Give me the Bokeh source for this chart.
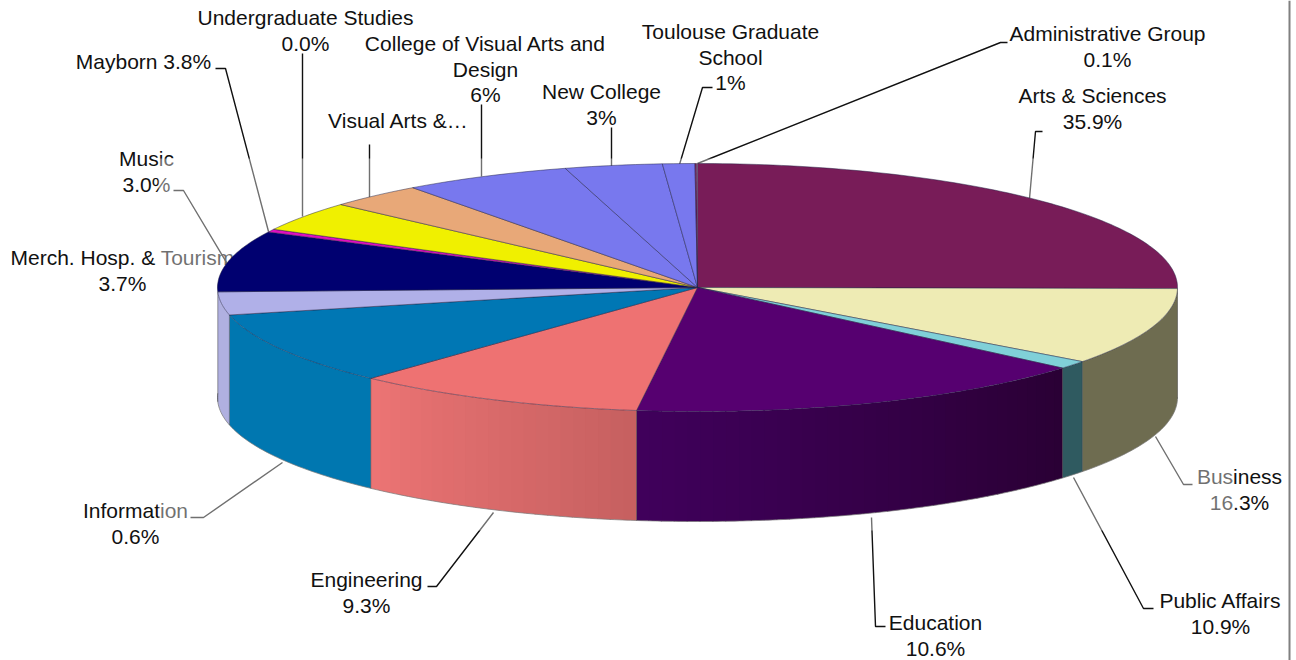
import math
from bokeh.plotting import figure
from bokeh.models import Range1d
from bokeh.core.properties import value
from bokeh.embed import file_html
from bokeh.resources import INLINE

# Slice sweeps as drawn on the pie (degrees)
slices = ["Arts & Sciences", "Business", "Public Affairs", "Education", "Engineering",
          "Information", "Merch. Hosp. & Tourism", "Music", "Mayborn", "Undergraduate Studies",
          "Visual Arts", "College of Visual Arts and Design", "New College", "Toulouse", "Administrative Group"]
sweeps = [90.5, 36.2, 3.8, 56.8, 35.6, 34.3, 10.8, 28.6, 1.4, 14.0, 11.6, 20.4, 11.8, 3.9, 0.2]
top_colors = ["#781c58", "#eeebb4", "#80d0d8", "#560070", "#ee7272", "#0077b4", "#b0b0e8", "#000070",
              "#e010c0", "#f0f000", "#e8a878", "#7878ee", "#7878ee", "#7878ee", "#781c58"]
wall_start = ["#6e6c50", "#6e6c50", "#2f5a60", "#2a0034", "#c66060", "#0077b0", "#b0b0e0", "#000070",
              "#e010c0", "#f0f000", "#e8a878", "#7878ee", "#7878ee", "#7878ee", "#781c58"]
wall_end = ["#6e6c50", "#6e6c50", "#2f5a60", "#40005c", "#ec7474", "#0077b0", "#b0b0e0", "#000070",
            "#e010c0", "#f0f000", "#e8a878", "#7878ee", "#7878ee", "#7878ee", "#781c58"]

# Label texts: (centre x, first-line y, lines)
labels = [
    (305, 17, ["Undergraduate Studies", "0.0%"]),
    (143, 61, ["Mayborn 3.8%"]),
    (485, 43, ["College of Visual Arts and", "Design", "6%"]),
    (398, 120, ["Visual Arts &\u2026"]),
    (601, 91, ["New College", "3%"]),
    (730, 31, ["Toulouse Graduate", "School", "1%"]),
    (1107, 33, ["Administrative Group", "0.1%"]),
    (1092, 95, ["Arts & Sciences", "35.9%"]),
    (146, 158, ["Music", "3.0%"]),
    (122, 257, ["Merch. Hosp. & Tourism", "3.7%"]),
    (1239, 476, ["Business", "16.3%"]),
    (1220, 600, ["Public Affairs", "10.9%"]),
    (935, 622, ["Education", "10.6%"]),
    (366, 579, ["Engineering", "9.3%"]),
    (135, 510, ["Information", "0.6%"]),
]
leaders = [
    ([215, 225, 268], [68, 68, 231]),
    ([302, 302], [53, 216]),
    ([369, 369], [144, 197]),
    ([481, 481], [104, 176]),
    ([611, 611], [127, 166]),
    ([712, 702, 679], [87, 87, 164]),
    ([1007, 1000, 697], [42, 42, 163]),
    ([1042, 1035, 1029], [131, 131, 198]),
    ([173, 183, 232], [190, 190, 272]),
    ([1192, 1183, 1155], [484, 484, 436]),
    ([1153, 1143, 1073], [608, 608, 477]),
    ([885, 875, 871], [626, 626, 517]),
    ([427, 436, 493], [586, 586, 512]),
    ([190, 203, 282], [517, 517, 462]),
]

# Layout of the pie in page pixels
CX, CY, RX, RY, DEPTH = 697, 287, 480, 124, 110
FONT = "Liberation Sans"
SIZE = "21px"
W, H = 1296, 660


def pt(t_deg, dy=0):
    t = math.radians(t_deg)
    return CX + RX * math.sin(t), CY - RY * math.cos(t) + dy


def mix(a, b, f):
    ca = [int(a[i:i + 2], 16) for i in (1, 3, 5)]
    cb = [int(b[i:i + 2], 16) for i in (1, 3, 5)]
    return "#%02x%02x%02x" % tuple(round(x + (y - x) * f) for x, y in zip(ca, cb))


p = figure(width=W, height=H, output_backend="svg", toolbar_location=None,
           x_range=Range1d(0, W), y_range=Range1d(H, 0),
           min_border=0, outline_line_color=None, background_fill_color="white")
p.axis.visible = False
p.grid.visible = False

# Leaders and labels sit under a translucent picture area, as in the source
p.multi_line([l[0] for l in leaders], [l[1] for l in leaders], line_color="#111111", line_width=1.4)
for cx, y0, lines in labels:
    p.text([cx] * len(lines), [y0 + i * 25.5 for i in range(len(lines))], text=lines,
           text_font=value(FONT), text_font_size=value(SIZE), text_color="#111111",
           text_align="center", text_baseline="middle")
p.quad(left=[158], right=[1232], top=[158], bottom=[530], fill_color="white", fill_alpha=0.4, line_color=None)

# Walls
a = 0.0
wx, wy, wc = [], [], []
for s, c0, c1 in zip(sweeps, wall_start, wall_end):
    b = a + s
    lo, hi = max(a, 90), min(b, 272)
    if hi > lo:
        n = 1 if c0 == c1 else max(1, int((hi - lo) / 1.5))
        for i in range(n):
            u0 = lo + (hi - lo) * i / n
            u1 = lo + (hi - lo) * (i + 1) / n
            if i < n - 1:
                u1 += 0.15
            m = max(3, int(u1 - u0) + 2)
            ts = [u0 + (u1 - u0) * k / m for k in range(m + 1)]
            top = [pt(t) for t in ts]
            bot = [pt(t, DEPTH) for t in reversed(ts)]
            wx.append([q[0] for q in top + bot])
            wy.append([q[1] for q in top + bot])
            wc.append(mix(c0, c1, (i + 0.5) / n))
    a = b
p.patches(wx, wy, fill_color=wc, line_color=None)

# Bottom rim
rim = [pt(90 + i, DEPTH) for i in range(183)]
p.line([q[0] for q in rim], [q[1] for q in rim], line_color="#777777", line_width=1, line_alpha=0.7)

# Seams between walls
a = 0.0
for s in sweeps:
    a += s
    if 90 < a < 272:
        q0, q1 = pt(a), pt(a, DEPTH)
        p.line([q0[0], q1[0]], [q0[1], q1[1]], line_color="#333333", line_width=0.8, line_alpha=0.6)

# Top faces
a = 0.0
tx, ty = [], []
for s in sweeps:
    n = max(2, int(s))
    arc = [pt(a + s * k / n) for k in range(n + 1)]
    tx.append([CX] + [q[0] for q in arc])
    ty.append([CY] + [q[1] for q in arc])
    a += s
p.patches(tx, ty, fill_color=top_colors, line_color="#222244", line_width=0.8, line_alpha=0.6)

# Right picture border
p.line([1289, 1289], [0, H], line_color="#808080", line_width=2)

open("out.html", "w").write(file_html(p, INLINE))
